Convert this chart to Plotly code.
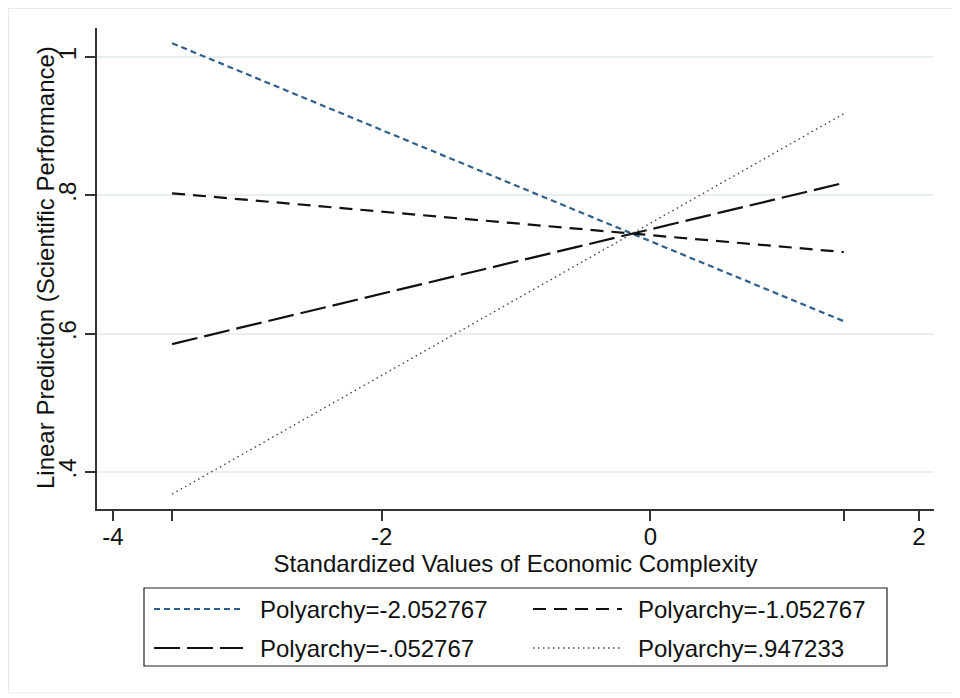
import plotly.graph_objects as go

# ---- data ----
x_vals = [-3.56, 1.44]
series_names = ["Polyarchy=-2.052767", "Polyarchy=-1.052767", "Polyarchy=-.052767", "Polyarchy=.947233"]
y_p1 = [1.020, 0.618]
y_p2 = [0.803, 0.718]
y_p3 = [0.585, 0.818]
y_p4 = [0.368, 0.918]
x_tickvals = [-4, -2, 0, 2, -3.56, 1.44]
x_ticktext = ["-4", "-2", "0", "2", "", ""]
y_tickvals = [0.4, 0.6, 0.8, 1.0]
y_ticktext = [".4", ".6", ".8", "1"]
x_title = "Standardized Values of Economic Complexity"
y_title = "Linear Prediction (Scientific Performance)"

styles = [
    dict(color="#2f5f8c", width=2.2, dash="6px,4px"),
    dict(color="#111111", width=2.2, dash="13px,8px"),
    dict(color="#111111", width=2.2, dash="26px,7px"),
    dict(color="#444444", width=1.4, dash="1.5px,3.5px"),
]
series = [y_p1, y_p2, y_p3, y_p4]

OFF = 8  # page body margin
W, H = 960, 698
# plot area in screen coords: x 97..934, y 28..509
L, T = 97 - OFF, 28 - OFF
R = W - (934 - OFF)
B = H - (509 - OFF)
pw, ph = W - L - R, H - T - B

def px(x):  # screen x -> paper
    return (x - OFF - L) / pw

def py(y):  # screen y -> paper
    return (H - B - (y - OFF)) / ph

fig = go.Figure()
for name, ys, st in zip(series_names, series, styles):
    fig.add_trace(go.Scatter(x=x_vals, y=ys, mode="lines", name=name, line=st,
                             showlegend=False, hoverinfo="skip"))

font = "Liberation Sans, Arial, Helvetica, sans-serif"
FS = 24
tfont = dict(family=font, size=FS, color="#111111")

shapes = []
annotations = []
# outer frame
shapes.append(dict(type="rect", xref="paper", yref="paper", x0=px(8.5), x1=px(953), y0=py(8.5), y1=py(693),
                   line=dict(color="#e3eaec", width=1), layer="below"))
# legend box
shapes.append(dict(type="rect", xref="paper", yref="paper", x0=px(144), x1=px(887), y0=py(588), y1=py(666),
                   line=dict(color="#222222", width=1.2)))
leg_pos = [(154, 243, 258, 609), (533, 622, 636, 609), (154, 243, 258, 648), (533, 622, 636, 648)]
for (x0, x1, xt, yy), name, st in zip(leg_pos, series_names, styles):
    shapes.append(dict(type="line", xref="paper", yref="paper", x0=px(x0), x1=px(x1), y0=py(yy), y1=py(yy),
                       line=st))
    annotations.append(dict(xref="paper", yref="paper", x=px(xt), y=py(yy), text=name, showarrow=False,
                            xanchor="left", yanchor="middle", font=tfont))
# y-axis title
annotations.append(dict(xref="paper", yref="paper", x=px(45), y=py(268), text=y_title, showarrow=False,
                        textangle=-90, xanchor="center", yanchor="middle", font=tfont))

fig.update_layout(
    width=W, height=H,
    margin=dict(l=L, r=R, t=T, b=B, autoexpand=False),
    paper_bgcolor="white", plot_bgcolor="white",
    font=tfont,
    shapes=shapes, annotations=annotations,
    showlegend=False,
    xaxis=dict(range=[-4.119, 2.112], tickvals=x_tickvals, ticktext=x_ticktext,
               tickfont=tfont, ticklabelstandoff=-5,
               showgrid=False, zeroline=False, showline=True, linecolor="#333333", linewidth=1.5,
               ticks="outside", ticklen=10, tickwidth=1.5, tickcolor="#333333",
               title=dict(text=x_title, standoff=3, font=tfont)),
    yaxis=dict(range=[0.3465, 1.042], tickvals=y_tickvals, ticktext=y_ticktext, tickangle=-90,
               tickfont=tfont,
               showgrid=True, gridcolor="#e8eff1", gridwidth=1.5, zeroline=False,
               showline=True, linecolor="#333333", linewidth=1.5,
               ticks="outside", ticklen=10, tickwidth=1.5, tickcolor="#333333"),
)

fig.write_html("out.html")
